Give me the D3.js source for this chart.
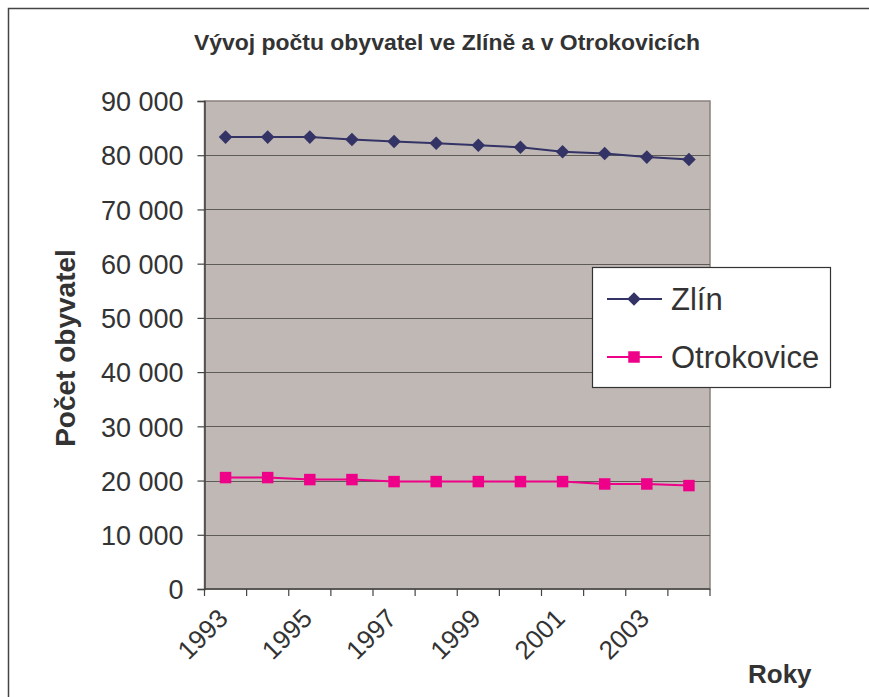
<!DOCTYPE html>
<html>
<head>
<meta charset="utf-8">
<script src="https://cdn.jsdelivr.net/npm/d3@7"></script>
<style>
  body { margin: 0; background: #fff; }
  svg text { font-family: "Liberation Sans", Arial, sans-serif; fill: #333; }
</style>
</head>
<body>
<div id="chart"></div>
<script>
const years = [1993, 1994, 1995, 1996, 1997, 1998, 1999, 2000, 2001, 2002, 2003, 2004];
const zlin = [83340, 83340, 83340, 82900, 82530, 82210, 81840, 81460, 80640, 80330, 79650, 79220];
const otrokovice = [20550, 20550, 20180, 20180, 19810, 19810, 19810, 19810, 19810, 19370, 19370, 19070];
const yTicks = [0, 10000, 20000, 30000, 40000, 50000, 60000, 70000, 80000, 90000];
const xLabelYears = [1993, 1995, 1997, 1999, 2001, 2003];

const series = [
  { name: 'Zlín', values: zlin, color: '#333366', marker: 'diamond' },
  { name: 'Otrokovice', values: otrokovice, color: '#ee0088', marker: 'square' }
];

const W = 869, H = 697;
const plot = { left: 204.5, right: 710, top: 101, bottom: 589 };

const svg = d3.select('#chart').append('svg')
  .attr('width', W)
  .attr('height', H);

// chart border (runs off the right and bottom edges)
svg.append('rect')
  .attr('x', 8.5).attr('y', 8.5)
  .attr('width', W).attr('height', H)
  .attr('fill', 'none')
  .attr('stroke', '#444')
  .attr('stroke-width', 1.5);

const x = d3.scaleBand().domain(years).range([plot.left, plot.right]).padding(0);
const y = d3.scaleLinear().domain([0, 90000]).range([plot.bottom, plot.top]);
const fmt = v => d3.format(',')(v).replace(/,/g, ' ');

// diamond = square turned 45 degrees, square as is
const markerPath = m => d3.symbol().type(d3.symbolSquare).size(m === 'diamond' ? 92 : 132)();
const markerRot = m => (m === 'diamond' ? ' rotate(45)' : '');

// plot background
svg.append('rect')
  .attr('x', plot.left).attr('y', plot.top)
  .attr('width', plot.right - plot.left).attr('height', plot.bottom - plot.top)
  .attr('fill', '#c0b8b5')
  .attr('stroke', '#8a807d')
  .attr('stroke-width', 1.5);

// gridlines
svg.append('g')
  .selectAll('line')
  .data(yTicks.slice(1, -1))
  .join('line')
  .attr('x1', plot.left).attr('x2', plot.right)
  .attr('y1', d => Math.round(y(d)) + 0.5).attr('y2', d => Math.round(y(d)) + 0.5)
  .attr('stroke', '#5e5a58')
  .attr('stroke-width', 1.2);

// Y axis
const yAxis = svg.append('g')
  .attr('transform', `translate(${plot.left},0)`)
  .call(d3.axisLeft(y).tickValues(yTicks).tickFormat(fmt).tickSize(7).tickPadding(14));
yAxis.select('.domain').attr('stroke', '#444').attr('stroke-width', 1.5);
yAxis.selectAll('.tick line').attr('stroke', '#444').attr('stroke-width', 1.2);
yAxis.selectAll('.tick text')
  .attr('font-size', '27px')
  .attr('fill', '#333')
  .attr('dy', '0.36em');

// X axis, ticks between categories
const tickPos = years.map(d => x(d)).concat([plot.right]);
const xAxisG = svg.append('g');
xAxisG.append('line')
  .attr('x1', plot.left).attr('x2', plot.right)
  .attr('y1', plot.bottom).attr('y2', plot.bottom)
  .attr('stroke', '#444').attr('stroke-width', 1.5);
xAxisG.selectAll('.xt')
  .data(tickPos)
  .join('line')
  .attr('class', 'xt')
  .attr('x1', d => d).attr('x2', d => d)
  .attr('y1', plot.bottom).attr('y2', plot.bottom + 7)
  .attr('stroke', '#444').attr('stroke-width', 1.2);
xAxisG.selectAll('.xl')
  .data(xLabelYears)
  .join('text')
  .attr('class', 'xl')
  .attr('font-size', '26px')
  .attr('text-anchor', 'end')
  .attr('transform', d => `translate(${x(d) + 25},${plot.bottom + 31}) rotate(-45)`)
  .text(d => d);

// lines and markers
const line = d3.line()
  .x((d, i) => x(years[i]) + x.bandwidth() / 2)
  .y(d => y(d));

series.forEach(s => {
  svg.append('path')
    .datum(s.values)
    .attr('fill', 'none')
    .attr('stroke', s.color)
    .attr('stroke-width', 2)
    .attr('d', line);

  svg.append('g')
    .selectAll('path')
    .data(s.values)
    .join('path')
    .attr('d', markerPath(s.marker))
    .attr('transform', (d, i) => `translate(${x(years[i]) + x.bandwidth() / 2},${y(d)})${markerRot(s.marker)}`)
    .attr('fill', s.color);
});

// title
svg.append('text')
  .attr('x', 447).attr('y', 50)
  .attr('text-anchor', 'middle')
  .attr('font-size', '22px')
  .attr('font-weight', 'bold')
  .attr('textLength', 506)
  .attr('lengthAdjust', 'spacingAndGlyphs')
  .text('Vývoj počtu obyvatel ve Zlíně a v Otrokovicích');

// axis titles
svg.append('text')
  .attr('transform', 'translate(75,348) rotate(-90)')
  .attr('text-anchor', 'middle')
  .attr('font-size', '28px')
  .attr('font-weight', 'bold')
  .text('Počet obyvatel');

svg.append('text')
  .attr('x', 748).attr('y', 683)
  .attr('font-size', '26px')
  .attr('font-weight', 'bold')
  .text('Roky');

// legend
const legend = svg.append('g').attr('transform', 'translate(592,267)');
legend.append('rect')
  .attr('x', 0.5).attr('y', 0.5)
  .attr('width', 238).attr('height', 120)
  .attr('fill', '#fff')
  .attr('stroke', '#333')
  .attr('stroke-width', 1.2);

const item = legend.selectAll('.item')
  .data(series)
  .join('g')
  .attr('class', 'item')
  .attr('transform', (d, i) => `translate(0,${32 + i * 58})`);
item.append('line')
  .attr('x1', 15).attr('x2', 70)
  .attr('stroke', d => d.color)
  .attr('stroke-width', 2);
item.append('path')
  .attr('d', d => markerPath(d.marker))
  .attr('transform', d => `translate(42,0)${markerRot(d.marker)}`)
  .attr('fill', d => d.color);
item.append('text')
  .attr('x', 79).attr('y', 11)
  .attr('font-size', '31px')
  .text(d => d.name);
</script>
</body>
</html>
